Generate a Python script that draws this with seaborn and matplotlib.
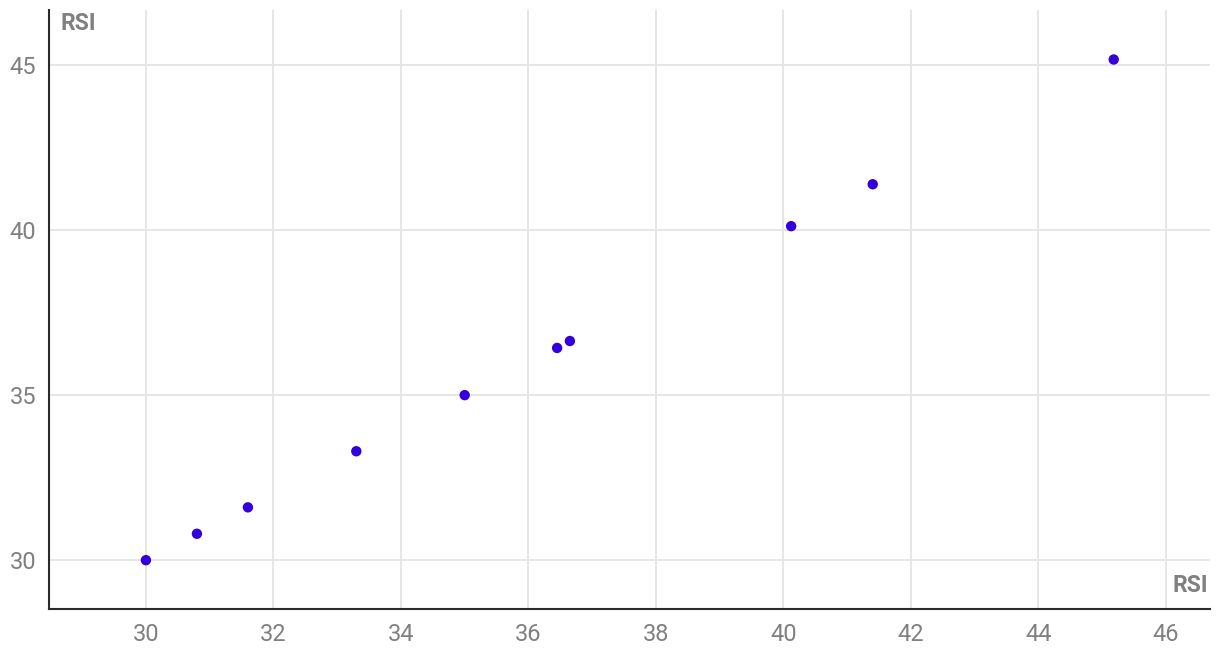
import matplotlib
matplotlib.use("Agg")
import matplotlib.pyplot as plt
import seaborn as sns
import pandas as pd

# --- Data --- #
rsi_x = [30.0, 30.8, 31.6, 33.3, 35.0, 36.45, 36.65, 40.12, 41.4, 45.18]
rsi_y = [30.0, 30.8, 31.6, 33.3, 35.0, 36.43, 36.64, 40.12, 41.39, 45.17]
x_ticks = [30, 32, 34, 36, 38, 40, 42, 44, 46]
y_ticks = [30, 35, 40, 45]

df = pd.DataFrame({'x': rsi_x, 'y': rsi_y})

# --- Style --- #
sns.set_style('white')
plt.rcParams['font.family'] = ['Roboto', 'DejaVu Sans']

fig = plt.figure(figsize=(12.2, 6.6), dpi=100)
ax = fig.add_axes([49 / 1220, 1 - 609 / 660, (1210 - 49) / 1220, (609 - 10) / 660])

sns.scatterplot(data=df, x='x', y='y', ax=ax, color='#3300dd', s=56,
                edgecolor='none', zorder=3)

ax.set_xlim(28.48, 46.69)
ax.set_ylim(28.52, 46.67)
ax.set_xticks(x_ticks)
ax.set_yticks(y_ticks)
ax.grid(True, color='#e6e6e6', linewidth=1.4)
ax.set_axisbelow(True)

for side in ['top', 'right']:
    ax.spines[side].set_visible(False)
for side in ['left', 'bottom']:
    ax.spines[side].set_color('#2b2b2b')
    ax.spines[side].set_linewidth(1.5)

ax.tick_params(axis='both', length=0, labelsize=17, labelcolor='#808080')
ax.tick_params(axis='x', pad=10)
ax.tick_params(axis='y', pad=9)

ax.set_xlabel('')
ax.set_ylabel('')
ax.text(12 / 1161, 1 - 14 / 599, 'RSI', transform=ax.transAxes, ha='left', va='center',
        fontsize=16.5, fontweight='bold', color='#808080')
ax.text(1 - 2 / 1161, 24 / 599, 'RSI', transform=ax.transAxes, ha='right', va='center',
        fontsize=16.5, fontweight='bold', color='#808080')

fig.savefig('out.png', dpi=100)
